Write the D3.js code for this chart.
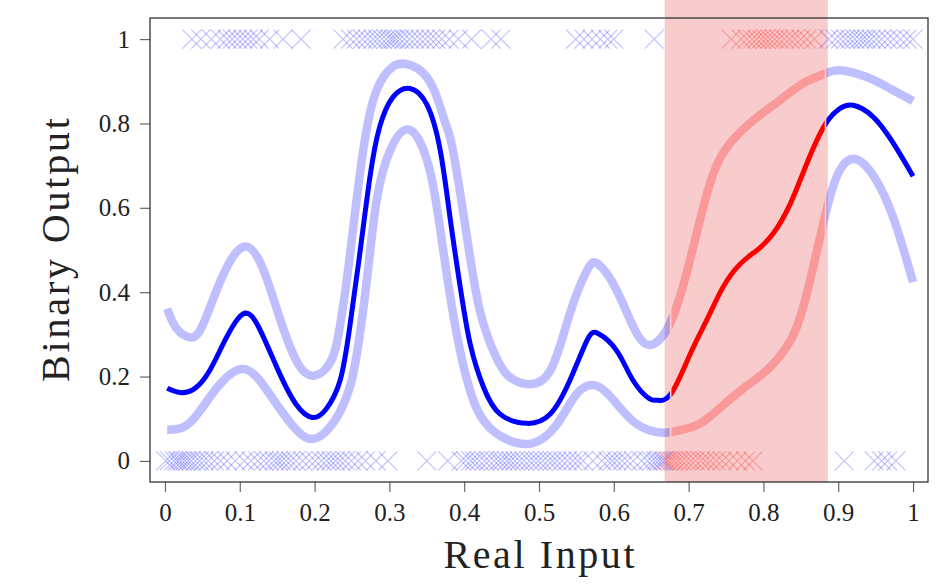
<!DOCTYPE html>
<html>
<head>
<meta charset="utf-8">
<script src="https://cdn.jsdelivr.net/npm/d3@7"></script>
<style>
  body { margin: 0; background: #fff; }
  text { font-family: "Liberation Serif", "DejaVu Serif", serif; fill: #222; }
</style>
</head>
<body>
<div id="area_plot"></div>
<script>
// predictive mean and +/- band, sampled along the input
const meanX = [0.003, 0.02, 0.04, 0.06, 0.08, 0.104, 0.125, 0.15, 0.175, 0.197, 0.215, 0.234, 0.247, 0.261, 0.274, 0.287, 0.305, 0.3275, 0.35, 0.368, 0.381, 0.394, 0.408, 0.426, 0.448, 0.484, 0.515, 0.541, 0.564, 0.579, 0.604, 0.626, 0.648, 0.658, 0.676, 0.702, 0.724, 0.746, 0.769, 0.791, 0.813, 0.836, 0.858, 0.882, 0.902, 0.920, 0.947, 0.974, 1.0];
const meanY = [0.172, 0.162, 0.172, 0.215, 0.285, 0.348, 0.318, 0.22, 0.135, 0.103, 0.122, 0.19, 0.317, 0.499, 0.673, 0.792, 0.863, 0.883, 0.845, 0.736, 0.578, 0.420, 0.277, 0.174, 0.111, 0.089, 0.111, 0.190, 0.285, 0.302, 0.261, 0.190, 0.147, 0.144, 0.158, 0.253, 0.333, 0.412, 0.467, 0.499, 0.539, 0.610, 0.705, 0.796, 0.835, 0.843, 0.815, 0.752, 0.675];

const upperX = [0.003, 0.015, 0.033, 0.05, 0.075, 0.104, 0.13, 0.155, 0.178, 0.197, 0.213, 0.224, 0.232, 0.24, 0.248, 0.265, 0.283, 0.305, 0.325, 0.345, 0.362, 0.375, 0.385, 0.403, 0.421, 0.443, 0.46, 0.484, 0.515, 0.541, 0.564, 0.579, 0.604, 0.631, 0.653, 0.676, 0.697, 0.715, 0.733, 0.755, 0.787, 0.822, 0.853, 0.882, 0.902, 0.938, 0.969, 1.0];
const upperY = [0.361, 0.315, 0.293, 0.32, 0.43, 0.507, 0.46, 0.33, 0.23, 0.202, 0.215, 0.245, 0.3, 0.39, 0.499, 0.736, 0.879, 0.935, 0.94, 0.92, 0.87, 0.8, 0.736, 0.539, 0.356, 0.245, 0.2, 0.182, 0.214, 0.348, 0.451, 0.467, 0.404, 0.301, 0.277, 0.329, 0.443, 0.570, 0.681, 0.752, 0.808, 0.855, 0.895, 0.918, 0.926, 0.910, 0.883, 0.853];

const lowerX = [0.003, 0.025, 0.047, 0.075, 0.104, 0.127, 0.149, 0.175, 0.197, 0.218, 0.235, 0.248, 0.258, 0.270, 0.283, 0.301, 0.327, 0.354, 0.372, 0.39, 0.408, 0.434, 0.484, 0.524, 0.55, 0.577, 0.604, 0.631, 0.667, 0.700, 0.724, 0.769, 0.804, 0.836, 0.858, 0.882, 0.902, 0.927, 0.956, 0.978, 1.0];
const lowerY = [0.074, 0.08, 0.119, 0.185, 0.218, 0.19, 0.135, 0.075, 0.052, 0.075, 0.12, 0.18, 0.27, 0.43, 0.618, 0.736, 0.785, 0.689, 0.499, 0.301, 0.166, 0.079, 0.04, 0.087, 0.158, 0.178, 0.135, 0.087, 0.067, 0.078, 0.099, 0.166, 0.214, 0.285, 0.396, 0.578, 0.689, 0.713, 0.649, 0.554, 0.424];

// observed inputs with label 0 and label 1
const zeroInputs = [0.001, 0.006, 0.012, 0.016, 0.019, 0.023, 0.027, 0.031, 0.035, 0.041, 0.046, 0.052, 0.058, 0.066, 0.074, 0.083, 0.094, 0.106, 0.115, 0.124, 0.132, 0.139, 0.146, 0.151, 0.156, 0.162, 0.168, 0.175, 0.184, 0.193, 0.201, 0.209, 0.216, 0.222, 0.228, 0.234, 0.241, 0.249, 0.258, 0.268, 0.282, 0.298,
  0.350, 0.378, 0.396, 0.402, 0.409, 0.414, 0.420, 0.427, 0.433, 0.440, 0.446, 0.451, 0.457, 0.462, 0.468, 0.474, 0.480, 0.487, 0.493, 0.499, 0.505, 0.512, 0.518, 0.524, 0.531, 0.538, 0.545, 0.552, 0.559, 0.572, 0.584, 0.592, 0.598, 0.604, 0.611, 0.618, 0.626, 0.637, 0.645, 0.651, 0.656, 0.660, 0.664, 0.667,
  0.670, 0.673, 0.677, 0.681, 0.686, 0.691, 0.697, 0.703, 0.709, 0.716, 0.722, 0.729, 0.737, 0.745, 0.754, 0.765, 0.776, 0.786,
  0.908, 0.948, 0.958, 0.966, 0.977];
const oneInputs = [0.036, 0.048, 0.062, 0.074, 0.083, 0.090, 0.097, 0.104, 0.111, 0.118, 0.126, 0.140, 0.158, 0.182,
  0.238, 0.248, 0.256, 0.264, 0.271, 0.278, 0.284, 0.290, 0.296, 0.301, 0.305, 0.309, 0.314, 0.320, 0.327, 0.334, 0.341, 0.348, 0.355, 0.362, 0.370, 0.380, 0.392, 0.410, 0.436, 0.449,
  0.549, 0.560, 0.571, 0.582, 0.592, 0.600, 0.654,
  0.757, 0.770, 0.778, 0.785, 0.791, 0.797, 0.803, 0.809, 0.815, 0.821, 0.828, 0.835, 0.842, 0.850, 0.858, 0.868,
  0.887, 0.896, 0.903, 0.910, 0.916, 0.922, 0.928, 0.933, 0.938, 0.944, 0.951, 0.958, 0.966, 0.974, 0.983, 0.992, 1.0];

// highlighted input window, and where the curves switch colour
const shadeRange = [0.668, 0.886];
const curveSplit = [0.676, 0.883];

const xTicks = [0, 0.1, 0.2, 0.3, 0.4, 0.5, 0.6, 0.7, 0.8, 0.9, 1];
const yTicks = [0, 0.2, 0.4, 0.6, 0.8, 1];

let dimensions = {
    width: 944,
    height: 584,
    margin: { top: 18, left: 150, right: 16, bottom: 102 }
};
dimensions.boundedWidth = dimensions.width - dimensions.margin.left - dimensions.margin.right;
dimensions.boundedHeight = dimensions.height - dimensions.margin.top - dimensions.margin.bottom;

const svg = d3.select("#area_plot").append("svg")
    .attr("width", dimensions.width)
    .attr("height", dimensions.height);

const xScale = d3.scaleLinear()
    .domain([-0.02, 1.02])
    .range([dimensions.margin.left, dimensions.margin.left + dimensions.boundedWidth]);
const yScale = d3.scaleLinear()
    .domain([-0.05, 1.05])
    .range([dimensions.margin.top + dimensions.boundedHeight, dimensions.margin.top]);

const frameTop = yScale.range()[1], frameBottom = yScale.range()[0];

// shaded window reaches up past the frame
svg.append("rect")
    .attr("x", xScale(shadeRange[0]))
    .attr("y", 0)
    .attr("width", xScale(shadeRange[1]) - xScale(shadeRange[0]))
    .attr("height", frameBottom)
    .attr("fill", "#f8cccc");

// crosses for the observations
const inShade = v => v >= shadeRange[0] && v <= shadeRange[1];
const cross = "M-9.5,-9.5L9.5,9.5M-9.5,9.5L9.5,-9.5";
const pts = zeroInputs.map(v => ({x: v, y: 0})).concat(oneInputs.map(v => ({x: v, y: 1})));
svg.append("g").selectAll("path")
    .data(pts)
    .join("path")
    .attr("d", cross)
    .attr("transform", d => `translate(${xScale(d.x)},${yScale(d.y)})`)
    .attr("fill", "none")
    .attr("stroke", d => inShade(d.x) ? "#ff0000" : "#0000ff")
    .attr("stroke-opacity", 0.24)
    .attr("stroke-width", 1.3);

// clip regions for the three colour segments
const defs = svg.append("defs");
const gap = 0.8;
const segs = [
    {id: "segA", x0: xScale.range()[0], x1: xScale(curveSplit[0]) - gap, red: false},
    {id: "segB", x0: xScale(curveSplit[0]) + gap, x1: xScale(curveSplit[1]) - gap, red: true},
    {id: "segC", x0: xScale(curveSplit[1]) + gap, x1: xScale.range()[1], red: false}
];
segs.forEach(s => {
    defs.append("clipPath").attr("id", s.id)
        .append("rect")
        .attr("x", s.x0).attr("y", 0)
        .attr("width", s.x1 - s.x0).attr("height", dimensions.height);
});

const lineGenerator = d3.line()
    .x(d => xScale(d[0]))
    .y(d => yScale(d[1]))
    .curve(d3.curveNatural);

const upper = d3.zip(upperX, upperY);
const lower = d3.zip(lowerX, lowerY);
const mean = d3.zip(meanX, meanY);

segs.forEach(s => {
    const g = svg.append("g").attr("clip-path", `url(#${s.id})`);
    [upper, lower].forEach(band => {
        g.append("path")
            .attr("d", lineGenerator(band))
            .attr("fill", "none")
            .attr("stroke", s.red ? "#ff0000" : "#0000ff")
            .attr("stroke-opacity", 0.25)
            .attr("stroke-width", 8.5);
    });
    g.append("path")
        .attr("d", lineGenerator(mean))
        .attr("fill", "none")
        .attr("stroke", s.red ? "#ff0000" : "#0000ff")
        .attr("stroke-width", 5);
});

// axes
const xAxis = d3.axisBottom(xScale)
    .tickValues(xTicks)
    .tickSize(10)
    .tickPadding(11)
    .tickFormat(d3.format("~g"));
const yAxis = d3.axisLeft(yScale)
    .tickValues(yTicks)
    .tickSize(10)
    .tickPadding(10)
    .tickFormat(d3.format("~g"));

const gx = svg.append("g")
    .attr("transform", `translate(0, ${frameBottom})`)
    .call(xAxis);
const gy = svg.append("g")
    .attr("transform", `translate(${xScale.range()[0]}, 0)`)
    .call(yAxis);
[gx, gy].forEach(g => {
    g.select(".domain").remove();
    g.selectAll(".tick line").attr("stroke", "#666").attr("stroke-width", 1.2);
    g.selectAll(".tick text").attr("font-size", 25).attr("fill", "#222")
        .style("font-family", "'Liberation Serif', serif");
});

// frame
svg.append("rect")
    .attr("x", xScale.range()[0])
    .attr("y", frameTop)
    .attr("width", xScale.range()[1] - xScale.range()[0])
    .attr("height", frameBottom - frameTop)
    .attr("fill", "none")
    .attr("stroke", "#222")
    .attr("stroke-width", 1.2);

// axis titles
svg.append("text")
    .attr("x", (xScale.range()[0] + xScale.range()[1]) / 2)
    .attr("y", 568)
    .attr("text-anchor", "middle")
    .attr("font-size", 40)
    .attr("textLength", 191)
    .attr("lengthAdjust", "spacing")
    .text("Real Input");

svg.append("text")
    .attr("transform", "translate(69, 250) rotate(-90)")
    .attr("text-anchor", "middle")
    .attr("font-size", 40)
    .attr("textLength", 264)
    .attr("lengthAdjust", "spacing")
    .text("Binary Output");
</script>
</body>
</html>
